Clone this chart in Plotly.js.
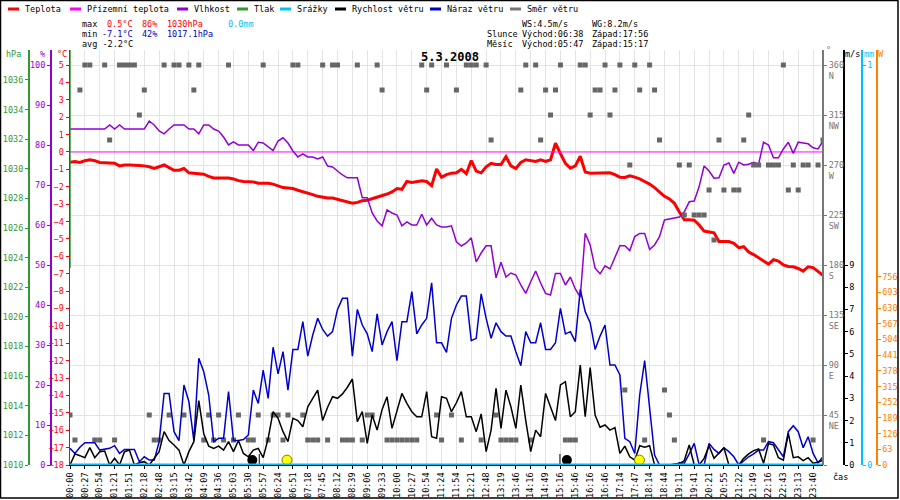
<!DOCTYPE html>
<html>
<head>
<meta charset="utf-8">
<script src="https://cdn.plot.ly/plotly-3.0.1.min.js"></script>
<style>
    html, body { margin: 0; padding: 0; background: #fff; }
    #graph { width: 900px; height: 500px; }
</style>
</head>
<body>
<div id="graph"></div>
<script>
'use strict';

// x axis: one tick label every 3 samples
var timeLabels = ['00:00', '00:27', '00:54', '01:21', '01:51', '02:18', '02:48', '03:15', '03:42', '04:09',
    '04:36', '05:03', '05:30', '05:57', '06:24', '06:51', '07:18', '07:45', '08:12', '08:39',
    '09:06', '09:33', '10:00', '10:27', '10:54', '11:24', '11:54', '12:21', '12:48', '13:19',
    '13:46', '14:16', '14:49', '15:16', '15:46', '16:16', '16:46', '17:14', '17:47', '18:14',
    '18:44', '19:11', '19:41', '20:21', '20:55', '21:22', '21:49', '22:16', '22:43', '23:13', '23:40'];

// Teplota [°C]
var temperature = [
    -0.6, -0.55, -0.6, -0.5, -0.45, -0.5, -0.6, -0.62, -0.62, -0.65,
    -0.8, -0.75, -0.75, -0.75, -0.78, -0.8, -0.85, -0.95, -0.85, -0.75,
    -0.9, -1.05, -1.05, -0.95, -1.2, -1.22, -1.25, -1.28, -1.4, -1.5,
    -1.5, -1.5, -1.5, -1.55, -1.65, -1.7, -1.7, -1.72, -1.8, -1.8,
    -1.8, -1.85, -1.95, -2.05, -2.07, -2.1, -2.2, -2.27, -2.35, -2.45,
    -2.55, -2.62, -2.65, -2.65, -2.72, -2.8, -2.9, -2.95, -2.9, -2.8,
    -2.78, -2.7, -2.62, -2.52, -2.42, -2.3, -2.1, -2.15, -1.7, -1.75,
    -1.72, -1.65, -1.7, -1.94, -0.98, -1.45, -1.3, -1.22, -1.2, -1.0,
    -1.25, -0.5, -1.1, -1.2, -0.85, -0.65, -0.72, -0.72, -0.27, -0.8,
    -0.95, -0.6, -0.45, -0.5, -0.55, -0.45, -0.55, -0.45, 0.5, -0.1,
    -0.65, -0.94, -0.8, -0.25, -1.15, -1.22, -1.22, -1.2, -1.2, -1.2,
    -1.3, -1.45, -1.47, -1.37, -1.45, -1.55, -1.7, -1.85, -2.05, -2.3,
    -2.55, -2.7, -2.95, -3.45, -3.9, -3.9, -3.92, -4.2, -4.55, -4.6,
    -4.65, -5.15, -5.15, -5.15, -5.25, -5.5, -5.45, -5.75, -5.9, -6.1,
    -6.3, -6.45, -6.2, -6.28, -6.5, -6.58, -6.6, -6.7, -6.85, -6.6,
    -6.65, -6.85, -7.1];

// Přízemní teplota [°C]
var groundTemp = [
    0, 0, 0, 0, 0, 0, 0, 0, 0, 0, 0, 0, 0, 0, 0, 0, 0, 0, 0, 0,
    0, 0, 0, 0, 0, 0, 0, 0, 0, 0, 0, 0, 0, 0, 0, 0, 0, 0, 0, 0,
    0, 0, 0, 0, 0, 0, 0, 0, 0, 0, 0, 0, 0, 0, 0, 0, 0, 0, 0, 0,
    0, 0, 0, 0, 0, 0, 0, 0, 0, 0, 0, 0, 0, 0, 0, 0, 0, 0, 0, 0,
    0, 0, 0, 0, 0, 0, 0, 0, 0, 0, 0, 0, 0, 0, 0, 0, 0, 0, 0, 0,
    0, 0, 0, 0, 0, 0, 0, 0, 0, 0, 0, 0, 0, 0, 0, 0, 0, 0, 0, 0,
    0, 0, 0, 0, 0, 0, 0, 0, 0, 0, 0, 0, 0, 0, 0, 0, 0, 0, 0, 0,
    0, 0, 0, 0, 0, 0, 0, 0, 0, 0, 0, 0, 0];

// Vlhkost [%]
var humidity = [
    84, 84, 84, 84, 84, 84, 84, 84, 85, 84,
    85, 84, 84, 84, 84, 84, 86, 85, 83.5, 82.8,
    84, 85, 85, 85, 84, 84, 82.8, 85, 85, 84,
    83.5, 82, 80, 80.8, 80, 80, 80, 78.6, 80.7, 80.5,
    79.5, 78.6, 81, 81.8, 80.5, 78.5, 77, 77.8, 77, 77,
    76.5, 77, 74.75, 74.5, 73.5, 72.5, 71.8, 71.8, 71.8, 66.8,
    66.8, 63, 61, 59.8, 63.8, 63, 62.5, 59.8, 60.8, 60,
    60, 62.7, 60, 61.7, 60, 59.5, 59.5, 59.8, 55.8, 54.75,
    55.5, 56.8, 50.8, 53, 54.8, 54.8, 46.8, 50.7, 47, 48,
    47.5, 45, 42.9, 45.8, 48.5, 45.5, 42.9, 42.5, 47.9, 47.9,
    45, 47, 44, 42, 57.9, 55, 49.2, 47.8, 49.8, 49,
    52, 54.8, 54.8, 53.6, 57.1, 57.9, 57.9, 53.9, 55, 57.1,
    61.25, 61.5, 61.7, 62, 63.3, 65.8, 66, 69.6, 74.75, 73.5,
    71.7, 71.8, 75, 75.5, 72.9, 75.7, 75, 75.2, 75.7, 75.2,
    80.7, 80, 76.8, 76.8, 79, 80.7, 77.9, 80.7, 80.5, 80.3,
    79.3, 79, 81];

// Tlak [hPa] - only the first sample is drawn
var pressureX = [0, 0];
var pressure = [1040, 1023.3];

// Srážky [mm]
var rain = [
    0, 0, 0, 0, 0, 0, 0, 0, 0, 0, 0, 0, 0, 0, 0, 0, 0, 0, 0, 0,
    0, 0, 0, 0, 0, 0, 0, 0, 0, 0, 0, 0, 0, 0, 0, 0, 0, 0, 0, 0,
    0, 0, 0, 0, 0, 0, 0, 0, 0, 0, 0, 0, 0, 0, 0, 0, 0, 0, 0, 0,
    0, 0, 0, 0, 0, 0, 0, 0, 0, 0, 0, 0, 0, 0, 0, 0, 0, 0, 0, 0,
    0, 0, 0, 0, 0, 0, 0, 0, 0, 0, 0, 0, 0, 0, 0, 0, 0, 0, 0, 0,
    0, 0, 0, 0, 0, 0, 0, 0, 0, 0, 0, 0, 0, 0, 0, 0, 0, 0, 0, 0,
    0, 0, 0, 0, 0, 0, 0, 0, 0, 0, 0, 0, 0, 0, 0, 0, 0, 0, 0, 0,
    0, 0, 0, 0, 0, 0, 0, 0, 0, 0, 0, 0, 0];

// Rychlost větru [m/s]
var windSpeed = [
    0, 0.5, 0.42, 0.33, 0.78, 0.33, 0.6, 0.63, 0, 0.3,
    0, 0.6, 0.67, 0, 0.1, 0.15, 0, 0.3, 0.6, 1.5,
    1.1, 0.9, 0.67, 0, 0.6, 1.05, 2.9, 1.4, 0.85, 0.75,
    0.85, 0.67, 1.05, 0.6, 1.1, 0.52, 0.37, 0.67, 0.75, 0.33,
    1.2, 2.4, 2.1, 1.5, 1.05, 2.1, 2.0, 1.72, 2.62, 3.0,
    3.37, 2.0, 2.6, 3.07, 3.0, 3.2, 3.5, 3.87, 1.95, 2.4,
    0.97, 2.25, 1.57, 2.5, 3.07, 1.65, 2.5, 3.22, 2.77, 2.4,
    2.17, 2.17, 3.3, 1.27, 1.2, 3.07, 3.0, 2.4, 2.8, 3.3,
    2.17, 2.17, 1.5, 2.3, 0.6, 1.57, 3.45, 1.65, 3.37, 2.62,
    1.65, 3.6, 2.0, 0.6, 1.57, 1.27, 3.22, 2.6, 2.0, 3.6,
    3.75, 2.17, 2.4, 4.5, 2.17, 4.38, 2.25, 1.7, 1.8, 1.57,
    1.68, 0.52, 0.85, 0.37, 0.22, 0.87, 0.8, 0.87, 0, 0,
    0, 0, 0.05, 0.05, 0.2, 0.9, 0, 0, 0.3, 0.87,
    0.3, 0.55, 0.78, 0, 0, 0, 0.3, 0.5, 0.65, 0.72,
    0.08, 0.97, 0.9, 0.33, 0.22, 1.42, 0.33, 0.37, 0.2, 0.33,
    0.08, 0.12, 0.22];

// Náraz větru [m/s]
var windGust = [
    0.75, 0.52, 0.8, 1.0, 1.0, 1.0, 0.67, 0.7, 0.75, 0.87,
    0.52, 0.7, 0.7, 0.7, 0.15, 0.37, 0.22, 0.22, 1.05, 3.22,
    3.22, 1.5, 1.1, 3.6, 2.85, 1.1, 4.8, 4.2, 3.15, 1.05,
    1.2, 1.2, 3.3, 1.1, 1.1, 1.15, 1.35, 3.37, 2.77, 4.27,
    3.0, 5.3, 4.1, 5.1, 3.37, 5.2, 5.2, 6.45, 4.9, 5.85,
    6.6, 6.1, 5.8, 6.0, 7.0, 7.5, 7.5, 4.9, 7.0, 6.3,
    5.9, 5.1, 6.8, 5.4, 6.0, 6.45, 4.7, 6.45, 6.45, 7.8,
    5.9, 6.3, 6.6, 8.2, 5.5, 5.5, 5.07, 6.6, 7.2, 7.6,
    7.6, 5.6, 5.7, 7.7, 6.6, 5.7, 6.4, 6.0, 5.8, 5.8,
    5.1, 4.47, 6.0, 5.5, 5.5, 6.4, 5.2, 5.2, 5.5, 7.05,
    5.9, 6.0, 5.55, 7.9, 6.9, 6.4, 5.2, 5.8, 6.3, 4.5,
    4.5, 4.05, 1.2, 1.05, 0.52, 3.15, 4.7, 2.55, 0.45, 0,
    0, 0, 0, 0.1, 0.08, 0.5, 0.97, 0, 0, 0.97,
    0.7, 0.52, 0.78, 0.6, 0.37, 0, 0.2, 0.37, 0.5, 0.67,
    0.67, 1.05, 1.0, 0.7, 0.37, 1.5, 1.77, 1.5, 0.78, 1.27,
    0.52, 0.1, 0.37];

// Směr větru [°]
var windDir = [
    45, 22.5, 337.5, 360, 360, 22.5, 22.5, 360, 292.5, 22.5,
    360, 360, 360, 360, 315, 337.5, 45, 22.5, 22.5, 360,
    45, 360, 360, 45, 360, 337.5, 360, 22.5, 45, 22.5,
    45, 22.5, 360, 22.5, 45, null, 22.5, 22.5, 45, 360,
    22.5, 45, 45, 22.5, 45, 360, 360, 45, 22.5, 22.5,
    22.5, 360, 22.5, 360, 360, 22.5, 22.5, 22.5, 360, 22.5,
    45, 45, 360, 337.5, 22.5, 22.5, 22.5, 22.5, 22.5, 22.5,
    22.5, 360, 337.5, 360, 45, 22.5, 360, 45, 337.5, 22.5,
    360, 360, 360, 22.5, 360, 292.5, 45, 22.5, 22.5, 22.5,
    22.5, 337.5, 360, 22.5, 360, 292.5, 337.5, 315, 337.5, 360,
    22.5, 22.5, 22.5, 360, 360, 315, 337.5, 337.5, 360, 315,
    337.5, 360, 67.5, 270, 360, 337.5, 22.5, 360, 337.5, 292.5,
    67.5, 45, 22.5, 270, 225, 270, 225, 225, 225, 247.5,
    202.5, 292.5, 247.5, null, 247.5, 247.5, 292.5, 315, 270, 270,
    22.5, 270, 270, 270, 360, 247.5, 270, 247.5, 270, 270,
    22.5, 270, 292.5];

// sun / moon events (sample index position)
var sunX = [43.8, 114.95];
var moonX = [36.8, 100.3];
var moonTickX = [38.2, 98.9];
var eventLevel = 0.22;

var seriesNames = ['Teplota', 'Přízemní teplota', 'Vlhkost', 'Tlak', 'Srážky', 'Rychlost větru', 'Náraz větru', 'Směr větru'];
var seriesColors = ['#ff0000', '#ff00ff', '#9400d3', '#339933', '#00bfff', '#000000', '#0000cc', '#777777'];

var FONT = 'DejaVu Sans Mono, Liberation Mono, monospace';
var W = 900, H = 500;
var PLOT_L = 70, PLOT_R = 823, PLOT_T = 50, PLOT_B = 465;

function px(x) { return x / W; }
function py(y) { return 1 - y / H; }

var idx = temperature.map(function (v, i) { return i; });
var tickIdx = timeLabels.map(function (t, k) { return k * 3; });

var data = [
    {x: idx, y: windDir, yaxis: 'y5', type: 'scatter', mode: 'markers',
        marker: {symbol: 'square', size: 5, color: '#666666'}},
    {x: idx, y: humidity, yaxis: 'y2', type: 'scatter', mode: 'lines',
        line: {color: seriesColors[2], width: 1.5}},
    {x: idx, y: temperature, yaxis: 'y', type: 'scatter', mode: 'lines',
        line: {color: seriesColors[0], width: 3}},
    {x: idx, y: groundTemp, yaxis: 'y', type: 'scatter', mode: 'lines',
        line: {color: seriesColors[1], width: 1}},
    {x: pressureX, y: pressure, yaxis: 'y3', type: 'scatter', mode: 'lines',
        line: {color: seriesColors[3], width: 1.5}},
    {x: idx, y: rain, yaxis: 'y7', type: 'scatter', mode: 'lines',
        line: {color: seriesColors[4], width: 3}},
    {x: idx, y: windGust, yaxis: 'y6', type: 'scatter', mode: 'lines',
        line: {color: seriesColors[6], width: 1.5}},
    {x: idx, y: windSpeed, yaxis: 'y6', type: 'scatter', mode: 'lines',
        line: {color: seriesColors[5], width: 1.5}},
    {x: [moonTickX[0], moonTickX[0], null, moonTickX[1], moonTickX[1]], y: [0, 0.5, null, 0, 0.5],
        yaxis: 'y6', type: 'scatter', mode: 'lines', line: {color: '#000', width: 1}},
    {x: moonX, y: [eventLevel, eventLevel], yaxis: 'y6', type: 'scatter', mode: 'markers',
        marker: {size: 10, color: '#000'}},
    {x: sunX, y: [eventLevel, eventLevel], yaxis: 'y6', type: 'scatter', mode: 'markers',
        marker: {size: 10, color: '#ffff00', line: {color: '#808000', width: 1}}},
    // solar radiation axis has no data this day; empty trace keeps the axis drawn
    {x: [null], y: [null], yaxis: 'y8', type: 'scatter', mode: 'lines',
        line: {color: '#ff8000', width: 1}}
];
data.forEach(function (t) { t.hoverinfo = 'skip'; t.showlegend = false; });

var yDomain = [py(PLOT_B), py(PLOT_T)];

function sideAxis(pos, side, color, range, tickvals, ticktext) {
    var ax = {
        overlaying: 'y', anchor: 'free', position: pos, side: side,
        range: range, tickvals: tickvals, showgrid: false, zeroline: false,
        showline: true, linecolor: color, linewidth: 1.5,
        ticks: 'outside', ticklen: 3, tickcolor: color,
        tickfont: {family: FONT, size: 8.5, color: color}, fixedrange: true
    };
    if (ticktext) { ax.ticktext = ticktext; }
    return ax;
}

function range10(a, b, s) {
    var out = [];
    for (var v = a; v <= b + 1e-9; v += s) { out.push(Math.round(v * 100) / 100); }
    return out;
}

var dirTicks = [0, 45, 90, 135, 180, 225, 270, 315, 360];
var dirText = ['', '45<br>NE', '90<br>E', '135<br>SE', '180<br>S', '225<br>SW', '270<br>W', '315<br>NW', '360<br>N'];

var layout = {
    width: W, height: H,
    margin: {l: 0, r: 0, t: 0, b: 0},
    paper_bgcolor: '#ffffff', plot_bgcolor: '#ffffff',
    showlegend: false,
    font: {family: FONT, size: 8.5, color: '#000'},
    title: {text: '<b>5.3.2008</b>', x: 0.5, xanchor: 'center', y: py(57), yanchor: 'middle',
        font: {family: FONT, size: 12, color: '#000'}},
    xaxis: {
        domain: [px(PLOT_L), px(PLOT_R)], range: [0, 152], anchor: 'y',
        tickvals: tickIdx, ticktext: timeLabels, tickangle: -90,
        tickfont: {family: FONT, size: 8.5, color: '#000'},
        ticks: 'outside', ticklen: 3, tickcolor: '#000',
        showgrid: true, gridcolor: '#e3e3e3', zeroline: false,
        showline: true, linecolor: '#000', linewidth: 1, fixedrange: true
    },
    yaxis: {
        domain: yDomain, range: [-18, 5.8625], anchor: 'x', side: 'left',
        tickvals: range10(-18, 5, 1), showgrid: false, zeroline: false,
        showline: true, linecolor: '#ff0000', linewidth: 1.5,
        ticks: 'outside', ticklen: 3, tickcolor: '#ff0000',
        tickfont: {family: FONT, size: 8.5, color: '#ff0000'}, fixedrange: true
    },
    yaxis2: sideAxis(px(50), 'left', '#9400d3', [0, 103.75], range10(0, 100, 10)),
    yaxis3: sideAxis(px(28), 'left', '#339933', [1010, 1038.02], range10(1010, 1036, 2)),
    yaxis5: sideAxis(px(PLOT_R), 'right', '#777777', [0, 373.5], dirTicks, dirText),
    yaxis6: sideAxis(px(843), 'right', '#000000', [0, 18.675], range10(0, 9, 1)),
    yaxis7: sideAxis(px(861), 'right', '#00bfff', [0, 1.0375], [0, 1]),
    yaxis8: sideAxis(px(876), 'right', '#ff8000', [0, 1666.3], range10(0, 756, 63)),
    shapes: [],
    annotations: []
};
layout.yaxis5.showgrid = true;
layout.yaxis5.gridcolor = '#e3e3e3';
layout.yaxis5.linewidth = 2;
layout.yaxis5.ticklabelshift = 6;

function text(str, x, y, color, anchor, size, bold) {
    layout.annotations.push({
        text: bold ? '<b>' + str + '</b>' : str,
        xref: 'paper', yref: 'paper', x: px(x), y: py(y),
        xanchor: anchor || 'left', yanchor: 'middle', showarrow: false,
        font: {family: FONT, size: size || 8.5, color: color || '#000'}
    });
}

// legend row
var legendX = [8, 70, 177, 237, 280, 335, 430, 510];
seriesNames.forEach(function (name, k) {
    layout.shapes.push({
        type: 'line', xref: 'paper', yref: 'paper',
        x0: px(legendX[k]), x1: px(legendX[k] + 11), y0: py(9), y1: py(9),
        line: {color: seriesColors[k], width: 3}
    });
    text(name, legendX[k] + 15, 9, '#000');
});

// stats block
text('max', 80, 24);
text('0.5°C', 105, 24, '#ff0000');
text('86%', 140, 24, '#ff0000');
text('1030hPa', 165, 24, '#ff0000');
text('0.0mm', 226, 24, '#00bfff');
text('min', 80, 34);
text('-7.1°C', 100, 34, '#0000cc');
text('42%', 140, 34, '#0000cc');
text('1017.1hPa', 165, 34, '#0000cc');
text('avg -2.2°C', 80, 44);

text('WS:4.5m/s', 520, 24);
text('WG:8.2m/s', 590, 24);
text('Slunce', 485, 34);
text('Východ:06:38', 520, 34);
text('Západ:17:56', 590, 34);
text('Měsíc', 485, 44);
text('Východ:05:47', 520, 44);
text('Západ:15:17', 590, 44);

// axis unit labels
text('hPa', 13, 54, '#339933', 'center');
text('%', 42, 54, '#9400d3', 'center');
text('°C', 62, 54, '#ff0000', 'center');
text('°', 828, 50, '#777777', 'center');
text('m/s', 852, 54, '#000000', 'center');
text('mm', 869, 54, '#00bfff', 'center');
text('W', 881, 54, '#ff8000', 'center');
text('čas', 840, 477, '#000000', 'center');

// frame
layout.shapes.push({
    type: 'rect', xref: 'paper', yref: 'paper',
    x0: px(0.5), x1: px(898), y0: py(498), y1: py(0.5),
    line: {color: '#000', width: 1.5}
});

Plotly.newPlot('graph', data, layout, {staticPlot: true, displayModeBar: false});
</script>
</body>
</html>
